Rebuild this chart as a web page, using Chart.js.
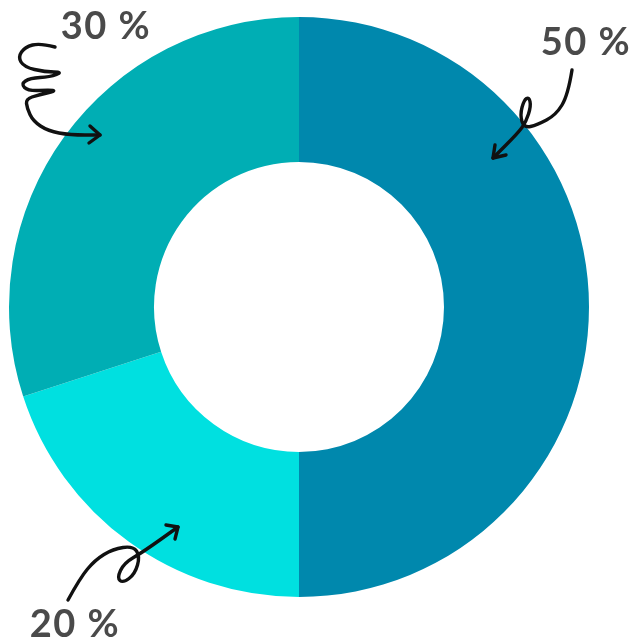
<!DOCTYPE html>
<html>
<head>
<meta charset="utf-8">
<script src="https://cdn.jsdelivr.net/npm/chart.js@4"></script>
<style>
  html, body { margin: 0; padding: 0; background: #fff; }
  canvas { display: block; }
</style>
</head>
<body>
<canvas id="donut" width="638" height="643"></canvas>
<script>
const labels = ['A', 'B', 'C'];
const shares = [50, 20, 30];
const colors = ['#0088ad', '#00e0e0', '#00aeb4'];

// label anchors (canvas px) and hand-drawn arrow strokes, per slice
const labelPos = [[586, 43], [75, 625], [106, 27]];
const arrows = [
  { path: [[572, 70], [568, 95], [556, 115], [537, 125], [524, 128], [520, 115], [524, 100], [529, 97], [531, 106], [526, 122], [518, 133], [493, 158]],
    head: [[493, 158], [495, 145], [506, 155]] },
  { path: [[68, 600], [80, 578], [95, 560], [113, 549], [133, 546], [140, 556], [135, 574], [123, 583], [117, 578], [124, 563], [143, 552], [178, 527]],
    head: [[178, 527], [166, 525], [175, 539]] },
  { path: [[55, 47], [40, 43], [25, 47], [18, 57], [24, 67], [45, 72], [63, 72], [50, 77], [30, 78], [21, 84], [28, 91], [50, 90], [56, 91], [38, 95], [26, 99], [27, 108], [33, 121], [48, 131], [70, 135], [100, 135]],
    head: [[100, 135], [90, 126], [89, 143]] },
];

function $(id) {
  return document.getElementById(id);
}

function smoothStroke(ctx, pts) {
  ctx.beginPath();
  ctx.moveTo(pts[0][0], pts[0][1]);
  for (let i = 1; i < pts.length - 1; i++) {
    const mx = (pts[i][0] + pts[i + 1][0]) / 2;
    const my = (pts[i][1] + pts[i + 1][1]) / 2;
    ctx.quadraticCurveTo(pts[i][0], pts[i][1], mx, my);
  }
  const last = pts[pts.length - 1];
  ctx.lineTo(last[0], last[1]);
  ctx.stroke();
}

const annotations = {
  id: 'annotations',
  afterDraw(chart) {
    const { ctx } = chart;
    ctx.save();
    ctx.strokeStyle = '#111';
    ctx.lineWidth = 3.4;
    ctx.lineCap = 'round';
    ctx.lineJoin = 'round';
    arrows.forEach((a) => {
      smoothStroke(ctx, a.path);
      const [tip, w1, w2] = a.head;
      ctx.beginPath();
      ctx.moveTo(w1[0], w1[1]);
      ctx.lineTo(tip[0], tip[1]);
      ctx.lineTo(w2[0], w2[1]);
      ctx.stroke();
    });
    ctx.fillStyle = '#4a4a4a';
    ctx.font = 'bold 38px Lato';
    ctx.letterSpacing = '1.5px';
    ctx.textAlign = 'center';
    ctx.textBaseline = 'middle';
    shares.forEach((v, i) => {
      ctx.fillText(`${v} %`, labelPos[i][0], labelPos[i][1]);
    });
    ctx.restore();
  },
};

new Chart($('donut'), {
  type: 'doughnut',
  data: {
    labels,
    datasets: [{
      data: shares,
      backgroundColor: colors,
      borderWidth: 0,
    }],
  },
  options: {
    responsive: false,
    animation: false,
    cutout: '50%',
    layout: { padding: { left: 9, right: 49, top: 17, bottom: 46 } },
    plugins: { legend: { display: false }, tooltip: { enabled: false } },
  },
  plugins: [annotations],
});
</script>
</body>
</html>
